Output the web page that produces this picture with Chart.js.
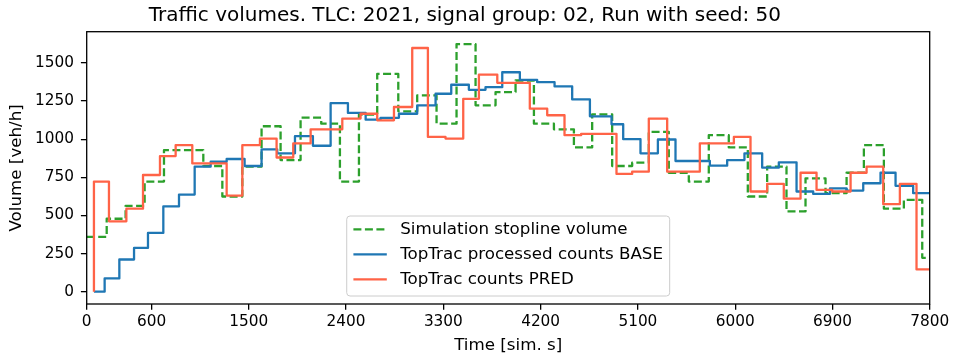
<!DOCTYPE html>
<html lang="en">
<head>
<meta charset="UTF-8">
<title>Traffic volumes</title>
<script src="https://cdn.jsdelivr.net/npm/chart.js"></script>
<style>
body { margin: 0; padding: 0; background: #fff; }
#wrap { width: 953px; height: 361px; }
</style>
</head>
<body>
<div id="wrap"><canvas id="volumeChart" width="953" height="361"></canvas></div>

<script>
// interval end time [s] and volume [veh/h] for each series (step "pre" style)
const simTime = [0,185,360,536,715,1079,1255,1440,1618,1794,1979,2170,2343,2519,2688,2883,3058,3237,3422,3598,3783,3968,4138,4323,4508,4677,4862,5047,5201,5386,5571,5756,5941,6117,6296,6475,6651,6836,7031,7191,7376,7561,7731,7800];
const simVolume = [359,359,478,563,722,928,824,624,820,1085,863,1141,1102,722,1162,1428,1183,1287,1102,1624,1222,1309,1385,1102,1065,946,1163,824,846,1048,780,722,1026,946,624,820,526,743,646,780,961,544,602,222];

const baseTime = [67,166,302,438,567,709,854,999,1147,1295,1461,1618,1763,1927,2093,2257,2417,2581,2719,2889,3058,3228,3373,3536,3690,3845,4008,4168,4329,4492,4656,4856,4964,5124,5285,5448,5766,5926,6086,6250,6404,6568,6722,6877,7031,7185,7345,7484,7647,7800];
const baseVolume = [0,0,87,211,287,385,559,637,820,852,870,824,933,907,1020,957,1237,1172,1128,1140,1167,1222,1298,1357,1324,1341,1439,1389,1374,1346,1261,1150,1098,1000,907,998,857,826,863,907,813,848,657,641,678,663,711,780,694,646];

const predTime = [67,206,367,521,678,823,977,1295,1440,1603,1757,1911,2072,2365,2534,2688,2843,3012,3157,3320,3484,3629,3799,4100,4261,4421,4575,4902,5047,5201,5371,5673,5988,6142,6296,6450,6605,6753,6898,7068,7216,7370,7524,7678,7800];
const predVolume = [0,722,461,544,765,889,961,841,630,961,1004,880,972,1065,1135,1167,1124,1211,1598,1015,1004,1265,1424,1370,1200,1157,1026,1035,772,787,1135,787,972,1015,657,707,610,780,667,657,780,820,574,707,146];

const xTicks = [0,600,1500,2400,3300,4200,5100,6000,6900,7800];
const yTicks = [0,250,500,750,1000,1250,1500];

const FONT = "'DejaVu Sans', sans-serif";

function toPoints(t, v) {
  return t.map((x, i) => ({ x: x, y: v[i] }));
}

// black box round the plot area
const frame = {
  id: 'frame',
  afterDatasetsDraw(chart) {
    const a = chart.chartArea, ctx = chart.ctx;
    ctx.save();
    ctx.strokeStyle = '#000';
    ctx.lineWidth = 1.3;
    ctx.strokeRect(a.left, a.top, a.right - a.left, a.bottom - a.top);
    ctx.restore();
  }
};

// legend box, lower centre of the plot
const boxLegend = {
  id: 'boxLegend',
  afterDraw(chart) {
    const ctx = chart.ctx, a = chart.chartArea;
    const fs = 16.7;
    const pad = 0.4 * fs, handle = 2 * fs, gap = 0.8 * fs, row = 25;
    ctx.save();
    ctx.font = fs + 'px ' + FONT;
    const sets = chart.data.datasets;
    const tw = Math.max(...sets.map(d => ctx.measureText(d.label).width));
    const w = pad * 2 + handle + gap + tw;
    const h = 80;
    const x = (a.left + a.right) / 2 - w / 2;
    const y = a.bottom - 8 - h;
    ctx.beginPath();
    ctx.roundRect(x, y, w, h, 3.3);
    ctx.fillStyle = 'rgba(255,255,255,0.8)';
    ctx.fill();
    ctx.strokeStyle = '#cccccc';
    ctx.lineWidth = 1;
    ctx.stroke();
    sets.forEach((d, i) => {
      const cy = y + 13.3 + i * row;
      ctx.beginPath();
      ctx.setLineDash(d.borderDash || []);
      ctx.strokeStyle = d.borderColor;
      ctx.lineWidth = d.borderWidth;
      ctx.moveTo(x + pad, cy);
      ctx.lineTo(x + pad + handle, cy);
      ctx.stroke();
      ctx.setLineDash([]);
      ctx.fillStyle = '#000';
      ctx.textBaseline = 'middle';
      ctx.fillText(d.label, x + pad + handle + gap, cy);
    });
    ctx.restore();
  }
};

new Chart(document.getElementById('volumeChart'), {
  type: 'line',
  data: {
    datasets: [
      {
        label: 'Simulation stopline volume',
        data: toPoints(simTime, simVolume),
        borderColor: '#2ca02c',
        borderWidth: 2.3,
        borderDash: [8, 3.5],
        stepped: 'after',
        order: 3
      },
      {
        label: 'TopTrac processed counts BASE',
        data: toPoints(baseTime, baseVolume),
        borderColor: '#1f77b4',
        borderWidth: 2.3,
        stepped: 'after',
        order: 2
      },
      {
        label: 'TopTrac counts PRED',
        data: toPoints(predTime, predVolume),
        borderColor: 'tomato',
        borderWidth: 2.3,
        stepped: 'after',
        order: 1
      }
    ]
  },
  options: {
    responsive: false,
    animation: false,
    devicePixelRatio: 1,
    elements: { point: { radius: 0 }, line: { fill: false, tension: 0, borderJoinStyle: 'round' } },
    layout: { padding: { left: 0, right: 23.3, top: 0, bottom: 0 } },
    plugins: {
      legend: { display: false },
      tooltip: { enabled: false },
      title: {
        display: true,
        text: 'Traffic volumes. TLC: 2021, signal group: 02, Run with seed: 50',
        color: '#000',
        font: { family: FONT, size: 20, weight: 'normal' },
        padding: { top: 3.7, bottom: 4 }
      }
    },
    scales: {
      x: {
        type: 'linear',
        min: 0,
        max: 7800,
        afterBuildTicks: s => { s.ticks = xTicks.map(v => ({ value: v })); },
        afterFit: s => { s.height = 57; },
        ticks: { color: '#000', font: { family: FONT, size: 15.3 }, padding: 3.5, maxRotation: 0, autoSkip: false, callback: v => String(v) },
        grid: { display: true, drawOnChartArea: false, drawTicks: true, tickLength: 5.8, color: '#000', lineWidth: 1.3 },
        border: { display: false },
        title: { display: true, text: 'Time [sim. s]', color: '#000', font: { family: FONT, size: 16.7 }, padding: { top: 0, bottom: 5 } }
      },
      y: {
        type: 'linear',
        min: -81,
        max: 1705,
        afterBuildTicks: s => { s.ticks = yTicks.map(v => ({ value: v })); },
        afterFit: s => { s.width = 86.7; },
        ticks: { color: '#000', font: { family: FONT, size: 15.3 }, padding: 7, callback: v => String(v) },
        grid: { display: true, drawOnChartArea: false, drawTicks: true, tickLength: 5.8, color: '#000', lineWidth: 1.3 },
        border: { display: false },
        title: { display: true, text: 'Volume [veh/h]', color: '#000', font: { family: FONT, size: 16.7 }, padding: { top: 7, bottom: 0 } }
      }
    }
  },
  plugins: [frame, boxLegend]
});
</script>
</body>
</html>
